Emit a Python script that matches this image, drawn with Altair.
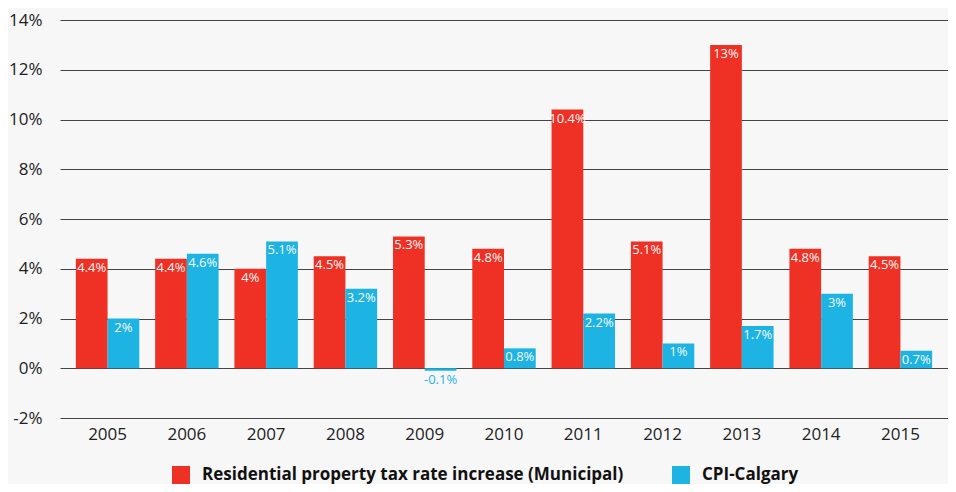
import altair as alt
import pandas as pd

years = ["2005", "2006", "2007", "2008", "2009", "2010", "2011", "2012", "2013", "2014", "2015"]
tax_values = [4.4, 4.4, 4.0, 4.5, 5.3, 4.8, 10.4, 5.1, 13.0, 4.8, 4.5]
cpi_values = [2.0, 4.6, 5.1, 3.2, -0.1, 0.8, 2.2, 1.0, 1.7, 3.0, 0.7]
series_names = ["Residential property tax rate increase (Municipal)", "CPI-Calgary"]
colors = ["#EE3124", "#1DB4E4"]

rows = []
for name, vals in zip(series_names, [tax_values, cpi_values]):
    for y, v in zip(years, vals):
        rows.append({"year": y, "series": name, "value": v, "label": f"{v:g}%"})
df = pd.DataFrame(rows)

x = alt.X("year:N", sort=years, title=None,
          scale=alt.Scale(paddingInner=0.2, paddingOuter=0.2),
          axis=alt.Axis(labelAngle=0, ticks=False, domain=False, labelPadding=8,
                        labelFont="Open Sans", labelFontSize=17, labelColor="#222"))
xoff = alt.XOffset("series:N", sort=series_names, scale=alt.Scale(paddingInner=0, paddingOuter=0))

bars = alt.Chart(df).mark_bar().encode(
    x=x,
    xOffset=xoff,
    y=alt.Y("value:Q", title=None,
            scale=alt.Scale(domain=[-2, 14], nice=False),
            axis=alt.Axis(values=list(range(-2, 15, 2)), labelExpr="datum.value + '%'",
                          ticks=False, domain=False, labelPadding=18,
                          labelFont="Open Sans", labelFontSize=17, labelColor="#222",
                          gridColor="#444", gridWidth=1, gridOpacity=1)),
    color=alt.Color("series:N", sort=series_names,
                    scale=alt.Scale(domain=series_names, range=colors),
                    legend=alt.Legend(title=None, orient="none", direction="horizontal",
                                      legendX=112, legendY=446,
                                      symbolType="square", symbolSize=324,
                                      symbolStrokeWidth=0, symbolOpacity=1,
                                      labelFont="Open Sans", labelFontWeight="bold",
                                      labelFontSize=17, labelColor="#111", labelLimit=600,
                                      labelOffset=12, columnPadding=48)),
)

texts = alt.Chart(df).mark_text(baseline="top", dy=3, font="Open Sans", fontSize=13).encode(
    x=x,
    xOffset=xoff,
    y=alt.Y("value:Q"),
    text="label:N",
    color=alt.condition(alt.datum.value < 0, alt.value("#1DB4E4"), alt.value("#f8f8f8")),
)

chart = alt.layer(bars, texts).properties(
    width=888, height=398,
    autosize=alt.AutoSizeParams(type="none"),
    padding={"left": 52, "top": 12, "right": 0, "bottom": 66},
    background="#f7f7f7",
).configure_view(stroke=None)

chart.save("out.html", embed_options={"renderer": "svg", "actions": False})
